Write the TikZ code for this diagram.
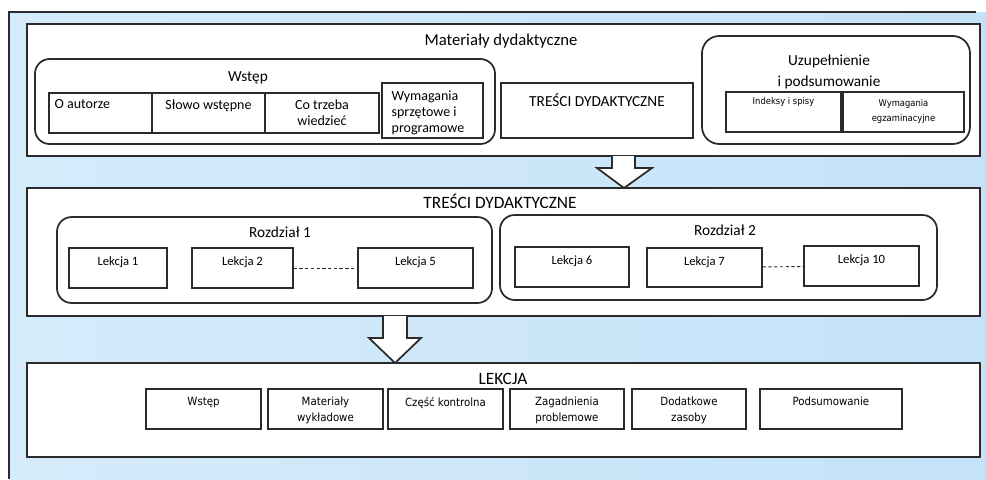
\documentclass[tikz,border=0pt]{standalone}
\usepackage{fontspec}
\setmainfont{Carlito}
\newfontfamily\condfont{DejaVu Sans Condensed}
\usepackage{tikz}
\usetikzlibrary{positioning}
\usetikzlibrary{fit}

\definecolor{frame-gray}{HTML}{2B2B2B}
\definecolor{bg-left}{HTML}{D6EBFA}
\definecolor{bg-mid}{HTML}{EDF6FD}
\definecolor{bg-right}{HTML}{C4E2F8}

\begin{document}
\begin{tikzpicture}[
            x=0.75pt, y=-0.75pt,
            panel/.style={
                draw=frame-gray,
                line width=1.3pt,
                fill=white,
                inner sep=0pt
            },
            group-box/.style={
                panel,
                rounded corners=11pt
            },
            cell/.style={
                draw=frame-gray,
                line width=0.9pt,
                fill=white,
                inner sep=0pt
            },
            head/.style={
                inner sep=0pt,
                anchor=base,
                font=\fontsize{#1}{#1}\selectfont
            },
            head/.default=12.5,
            cell-text/.style={
                inner sep=1.5pt,
                align=center,
                font=\fontsize{10.5}{12.5}\selectfont
            },
            small-text/.style={
                inner sep=1.5pt,
                align=center,
                font=\condfont\fontsize{#1}{12}\selectfont
            },
            block-arrow/.style={
                draw=frame-gray,
                line width=1.3pt,
                fill=white,
                line join=miter
            },
            link/.style={
                draw=frame-gray,
                line width=0.7pt,
                dash pattern=on 2.5pt off 1.8pt
            }
        ]
        \useasboundingbox (0,0) rectangle (986,479);
        \shade[left color=bg-left, middle color=bg-mid, right color=bg-right] (9,12) rectangle (986,479);
        \draw[frame-gray, line width=1.4pt] (9,479) -- (9,12) -- (976,12);

        % Materiały dydaktyczne
        \node[panel, fit={(27,24) (980,156)}] (mat) {};
        \node[head] (mat-title) at (501,45) {Materiały dydaktyczne};

        \node[group-box, fit={(35,59) (495,144)}] (wstep) {};
        \node[head=11.5] (wstep-title) at (248,81) {Wstęp};
        \node[cell, fit={(49,93) (152,133)}] (autor) {};
        \node[cell, fit={(152,93) (265,133)}] (slowo) {};
        \node[cell, fit={(265,93) (379,133)}] (wiedza) {};
        \node[cell, fit={(382,83) (483,138)}] (sprzet) {};
        \node[cell-text, below right=3.5pt and 3pt of autor.north west] (autor-t) {O autorze};
        \node[cell-text, below=3.5pt of slowo.north] (slowo-t) {Słowo wstępne};
        \node[cell-text, below=3.5pt of wiedza.north] (wiedza-t) {Co trzeba\\wiedzieć};
        \node[cell-text, align=left, font=\fontsize{10.5}{12}\selectfont,
            below right=4.5pt and 6pt of sprzet.north west] (sprzet-t) {Wymagania\\sprzętowe i\\programowe};

        \node[cell, fit={(501,83) (693,138)}] (tresci) {};
        \node[cell-text, font=\fontsize{11.5}{14}\selectfont, below=7pt of tresci.north] (tresci-t) {TREŚCI DYDAKTYCZNE};

        \node[group-box, rounded corners=13pt, fit={(702,36) (970,144)}] (uzup) {};
        \node[inner sep=0pt, anchor=base, align=center, font=\fontsize{11.5}{15.75}\selectfont]
            (uzup-title) at (829,86) {Uzupełnienie\\i podsumowanie};
        \node[cell, fit={(726,92) (841,132)}] (indeks) {};
        \node[cell, fit={(843,92) (964,132)}] (egzamin) {};
        \node[small-text=7, below=3pt of indeks.north] (indeks-t) {Indeksy i spisy};
        \node[small-text=7, font=\condfont\fontsize{7}{11}\selectfont,
            below=4.5pt of egzamin.north] (egzamin-t) {Wymagania\\egzaminacyjne};

        \draw[block-arrow] (612,156) -- (612,168) -- (597,168) -- (624,188)
            -- (652,168) -- (635,168) -- (635,156);

        % Treści dydaktyczne
        \node[panel, fit={(27,188) (980,316)}] (tresc) {};
        \node[head=13] (tresc-title) at (500,208) {TREŚCI DYDAKTYCZNE};

        \node[group-box, fit={(57,217) (492,303)}] (rozdz1) {};
        \node[head=11.5] (rozdz1-title) at (280,237) {Rozdział 1};
        \node[cell, fit={(69,248) (167,288)}] (lek1) {};
        \node[cell, fit={(192,248) (293,288)}] (lek2) {};
        \node[cell, fit={(358,248) (473,288)}] (lek5) {};
        \foreach \lek/\num in {lek1/1, lek2/2, lek5/5} {
            \node[cell-text, font=\fontsize{9.5}{12}\selectfont, below=5pt of \lek.north] {Lekcja \num};
        }
        \draw[link] (lek2) -- (lek5);

        \node[group-box, fit={(500,215) (937,300)}] (rozdz2) {};
        \node[head=11.5] (rozdz2-title) at (725,235) {Rozdział 2};
        \node[cell, fit={(515,247) (629,287)}] (lek6) {};
        \node[cell, fit={(647,248) (762,287)}] (lek7) {};
        \node[cell, fit={(804,246) (919,286)}] (lek10) {};
        \foreach \lek/\num in {lek6/6, lek7/7, lek10/10} {
            \node[cell-text, font=\fontsize{9.5}{12}\selectfont, below=5pt of \lek.north] {Lekcja \num};
        }
        \draw[link] (lek7) -- (lek10);

        \draw[block-arrow] (383,316) -- (383,338) -- (369,338) -- (395,363)
            -- (421,338) -- (407,338) -- (407,316);

        % Lekcja
        \node[panel, fit={(27,363) (980,457)}] (lekcja) {};
        \node[head=13] (lekcja-title) at (503,384) {LEKCJA};
        \node[cell, fit={(146,389) (261,429)}] (wstep2) {};
        \node[cell, fit={(268,389) (383,429)}] (wyklad) {};
        \node[cell, fit={(388,389) (503,429)}] (kontrola) {};
        \node[cell, fit={(510,389) (624,429)}] (zagadn) {};
        \node[cell, fit={(632,389) (746,429)}] (zasoby) {};
        \node[cell, fit={(760,389) (902,429)}] (podsum) {};
        \node[small-text=8.5, below=5pt of wstep2.north] {Wstęp};
        \node[small-text=8.5, below=5pt of wyklad.north] {Materiały\\wykładowe};
        \node[small-text=8.5, below=5pt of kontrola.north] {Część kontrolna};
        \node[small-text=8.5, below=5pt of zagadn.north] {Zagadnienia\\problemowe};
        \node[small-text=8.5, below=5pt of zasoby.north] {Dodatkowe\\zasoby};
        \node[small-text=8.5, below=5pt of podsum.north] {Podsumowanie};
        \end{tikzpicture}
\end{document}
